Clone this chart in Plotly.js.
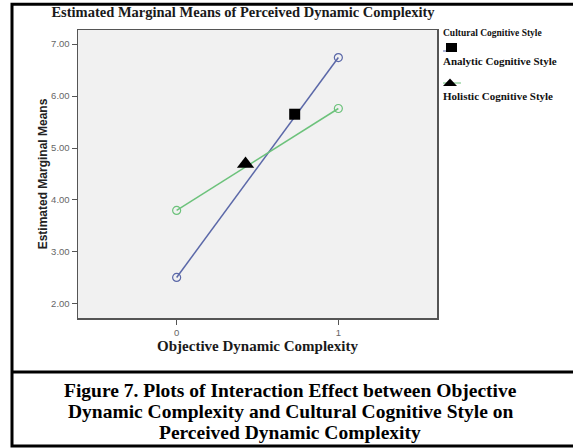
<!DOCTYPE html>
<html><head><meta charset="utf-8">
<script src="https://cdn.plot.ly/plotly-3.0.1.min.js"></script>
<style>html,body{margin:0;padding:0;background:#fff;}#chart{width:573px;height:448px;}</style>
</head><body><div id="chart"></div>
<script>
// Data
const xCategories = [0, 1];
const xTickLabels = ['0', '1'];
const analyticMeans = [2.51, 6.74];
const holisticMeans = [3.80, 5.76];
const seriesNames = ['Analytic Cognitive Style', 'Holistic Cognitive Style'];
const legendTitle = 'Cultural Cognitive Style';
// style-identifier markers placed on the lines (as in the SPSS output)
const analyticMarkerX = [0.73];
const analyticMarkerY = [5.65];
const holisticMarkerX = [0.426];
const holisticMarkerY = [4.69];
const yTickVals = [2, 3, 4, 5, 6, 7];
const yTickLabels = ['2.00', '3.00', '4.00', '5.00', '6.00', '7.00'];
const captionLines = [
  'Figure 7. Plots of Interaction Effect between Objective',
  'Dynamic Complexity and Cultural Cognitive Style on',
  'Perceived Dynamic Complexity'
];

// Geometry helpers (pixel -> paper)
const W = 573, H = 448;
const L = 78, R = 437, T = 30, B = 318;
const px = x => (x - L) / (R - L);
const py = y => (B - y) / (B - T);

const blue = '#5b68a8', green = '#6cc27b';

const traces = [
  {x: xCategories, y: analyticMeans, mode: 'lines+markers', name: seriesNames[0],
   line: {color: blue, width: 1.5}, marker: {symbol: 'circle-open', size: 8, color: blue, line: {width: 1.2}}},
  {x: xCategories, y: holisticMeans, mode: 'lines+markers', name: seriesNames[1],
   line: {color: green, width: 1.5}, marker: {symbol: 'circle-open', size: 8, color: green, line: {width: 1.2}}},
  {x: analyticMarkerX, y: analyticMarkerY, mode: 'markers', showlegend: false,
   marker: {symbol: 'square', size: 11, color: '#000'}},
  {x: holisticMarkerX, y: holisticMarkerY, mode: 'markers', showlegend: false,
   marker: {symbol: 'triangle-up', size: 15, color: '#000'}}
];

const serif = 'Liberation Serif, Times New Roman, serif';
const sans = 'Liberation Sans, Arial, sans-serif';

const shapes = [
  // outer figure box
  {type: 'rect', xref: 'paper', yref: 'paper', x0: px(12), x1: px(576), y0: py(4.3), y1: py(446),
   line: {color: '#000', width: 3}, fillcolor: 'rgba(0,0,0,0)', layer: 'below'},
  // caption separator
  {type: 'line', xref: 'paper', yref: 'paper', x0: px(12), x1: px(576), y0: py(372), y1: py(372),
   line: {color: '#000', width: 3}},
  // legend keys
  {type: 'line', xref: 'paper', yref: 'paper', x0: px(443), x1: px(456), y0: py(51), y1: py(51),
   line: {color: blue, width: 1}},
  {type: 'rect', xref: 'paper', yref: 'paper', x0: px(446), x1: px(457), y0: py(43), y1: py(52),
   fillcolor: '#000', line: {width: 0}},
  {type: 'line', xref: 'paper', yref: 'paper', x0: px(443), x1: px(461), y0: py(83), y1: py(83),
   line: {color: green, width: 1}},
  {type: 'path', xref: 'paper', yref: 'paper',
   path: `M ${px(443)} ${py(86)} L ${px(457)} ${py(86)} L ${px(450)} ${py(78.5)} Z`,
   fillcolor: '#000', line: {width: 0}}
];

const annotations = [
  {text: '<b>' + legendTitle + '</b>', xref: 'paper', yref: 'paper', x: px(441), y: py(33), xanchor: 'left', yanchor: 'middle',
   showarrow: false, font: {family: serif, size: 9.5, color: '#111'}},
  {text: '<b>' + seriesNames[0] + '</b>', xref: 'paper', yref: 'paper', x: px(441), y: py(61), xanchor: 'left', yanchor: 'middle',
   showarrow: false, font: {family: serif, size: 11, color: '#111'}},
  {text: '<b>' + seriesNames[1] + '</b>', xref: 'paper', yref: 'paper', x: px(441), y: py(96), xanchor: 'left', yanchor: 'middle',
   showarrow: false, font: {family: serif, size: 11, color: '#111'}}
];
const captionY = [390, 411, 432];
captionLines.forEach((t, i) => annotations.push({
  text: '<b>' + t + '</b>', xref: 'paper', yref: 'paper', x: px(290), y: py(captionY[i]),
  xanchor: 'center', yanchor: 'middle', showarrow: false,
  font: {family: serif, size: 19.5, color: '#000'}
}));

const layout = {
  width: W, height: H,
  margin: {l: L, r: W - R, t: T, b: H - B, pad: 0},
  paper_bgcolor: '#fff', plot_bgcolor: '#f1f1f1',
  showlegend: false,
  title: {text: '<b>Estimated Marginal Means of Perceived Dynamic Complexity</b>',
    font: {family: serif, size: 14.5, color: '#1a1a1a'}, xref: 'container', x: 243 / W, xanchor: 'center',
    yref: 'container', y: 1 - 12 / H, yanchor: 'middle'},
  xaxis: {range: [-0.61, 1.61], tickvals: xCategories, ticktext: xTickLabels, showgrid: false, zeroline: false,
    showline: true, mirror: true, linecolor: '#555', linewidth: 1.5,
    ticks: 'outside', ticklen: 5, tickcolor: '#555', tickfont: {family: sans, size: 9.5, color: '#666'},
    title: {text: '<b>Objective Dynamic Complexity</b>', font: {family: serif, size: 15, color: '#1a1a1a'}, standoff: 3}},
  yaxis: {range: [1.73, 7.27], tickvals: yTickVals, ticktext: yTickLabels, showgrid: false, zeroline: false,
    showline: true, mirror: true, linecolor: '#555', linewidth: 1.5,
    ticks: 'outside', ticklen: 5, tickcolor: '#555', tickfont: {family: sans, size: 9.5, color: '#666'},
    title: {text: '<b>Estimated Marginal Means</b>', font: {family: sans, size: 12, color: '#222'}, standoff: 1}},
  shapes: shapes,
  annotations: annotations
};

Plotly.newPlot('chart', traces, layout, {displayModeBar: false, staticPlot: true});
</script></body></html>
